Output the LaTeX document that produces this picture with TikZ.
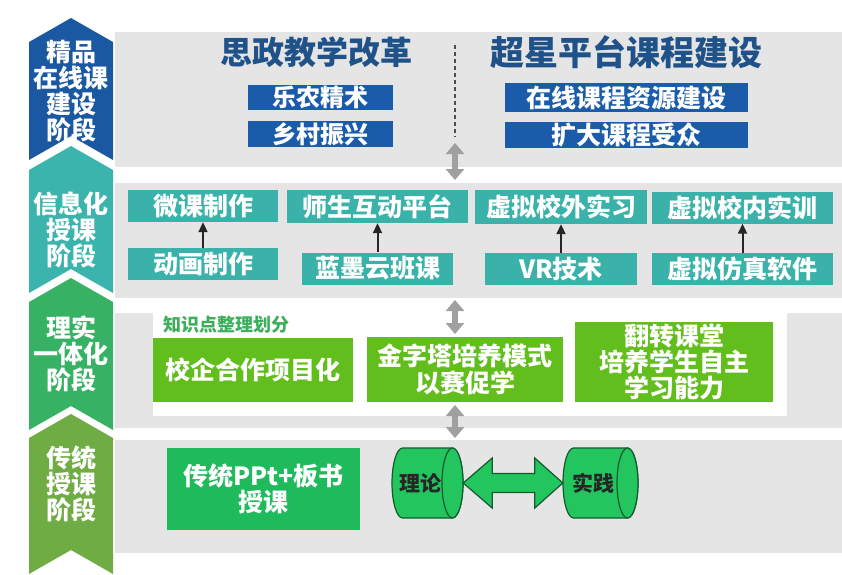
\documentclass[tikz,border=0pt]{standalone}
\usepackage{fontspec}
\setmainfont{Noto Sans CJK SC}
\usetikzlibrary{arrows.meta,calc}
\definecolor{bandgray}{RGB}{229,229,229}
\definecolor{ribblue}{RGB}{26,88,162}
\definecolor{ribteal}{RGB}{58,180,172}
\definecolor{ribgreen}{RGB}{55,178,100}
\definecolor{ribolive}{RGB}{112,172,68}
\definecolor{boxblue}{RGB}{26,92,170}
\definecolor{boxteal}{RGB}{58,178,170}
\definecolor{boxlime}{RGB}{98,190,28}
\definecolor{boxgreen}{RGB}{30,186,92}
\definecolor{cylfill}{RGB}{34,197,94}
\definecolor{cylline}{RGB}{20,90,45}
\definecolor{kpgreen}{RGB}{60,175,90}
\definecolor{arrowgray}{RGB}{160,160,160}
\definecolor{titleblue}{RGB}{32,82,138}
\begin{document}
\begin{tikzpicture}[x=1pt,y=-1pt,
  stagetext/.style={text=white, font=\bfseries\fontsize{25}{26}\selectfont, align=center, inner sep=0pt},
  titletext/.style={text=titleblue, font=\bfseries\fontsize{32}{34}\selectfont, inner sep=0pt},
  bluebox/.style={fill=boxblue, text=white, font=\bfseries\fontsize{24}{26}\selectfont, inner sep=0pt},
  tealbox/.style={fill=boxteal, text=white, font=\bfseries\fontsize{25}{26}\selectfont, inner sep=0pt},
  limebox/.style={fill=boxlime, text=white, font=\bfseries\fontsize{25}{27}\selectfont, align=center, inner sep=0pt},
  greenbox/.style={fill=boxgreen, text=white, font=\bfseries\fontsize{25}{26}\selectfont, align=center, inner sep=0pt},
  cylstyle/.style={fill=cylfill, draw=cylline, line width=1.2pt},
  cyltext/.style={text=black!85, font=\bfseries\fontsize{21}{22}\selectfont, inner sep=0pt},
  grayarrow/.style={draw=arrowgray, line width=6pt, {Triangle[width=18pt,length=11pt]}-{Triangle[width=18pt,length=11pt]}},
  blackarrow/.style={draw=black!85, line width=2pt, -{Triangle[width=9pt,length=10pt]}},
  dividerline/.style={draw=black!70, line width=1.2pt, dash pattern=on 4pt off 3pt}
]
\useasboundingbox (0,0) rectangle (842,574);
\fill[white] (0,0) rectangle (842,574);

% grey bands
\fill[bandgray] (115,32) rectangle (842,167);
\fill[bandgray] (115,183) rectangle (842,298);
\fill[bandgray] (115,313) rectangle (842,428);
\fill[white] (153,313) rectangle (787,416);
\fill[bandgray] (115,440) rectangle (842,553);

% stage ribbons
\fill[ribblue] (29,42) -- (71,18) -- (113,42) -- (113,160) -- (71,136) -- (29,160) -- cycle;
\fill[ribteal] (29,170) -- (71,146) -- (113,170) -- (113,293) -- (71,269) -- (29,293) -- cycle;
\fill[ribgreen] (29,302) -- (71,278) -- (113,302) -- (113,430) -- (71,406) -- (29,430) -- cycle;
\fill[ribolive] (29,438) -- (71,414) -- (113,438) -- (113,574) -- (71,550) -- (29,574) -- cycle;

\node[stagetext] (s1) at (71,91) {精品\\在线课\\建设\\阶段};
\node[stagetext] (s2) at (71,230) {信息化\\授课\\阶段};
\node[stagetext] (s3) at (71,354) {理实\\一体化\\阶段};
\node[stagetext] (s4) at (71,484) {传统\\授课\\阶段};

% band 1
\node[titletext] (szjx) at (316,52) {思政教学改革};
\node[titletext, font=\bfseries\fontsize{34}{36}\selectfont] (cxpt) at (626,52) {超星平台课程建设};
\node[bluebox, minimum width=145pt, minimum height=25pt] (lnjs) at (320.5,97.5) {乐农精术};
\node[bluebox, minimum width=145pt, minimum height=26pt] (xczx) at (320.5,134) {乡村振兴};
\node[bluebox, font=\bfseries\fontsize{25}{26}\selectfont, minimum width=243pt, minimum height=29pt] (zxkc) at (626.5,97.5) {在线课程资源建设};
\node[bluebox, font=\bfseries\fontsize{25}{26}\selectfont, minimum width=243pt, minimum height=26pt] (kdkc) at (626.5,135) {扩大课程受众};
\coordinate (d1) at (455,45);
\coordinate (d2) at (455,137);
\draw[dividerline] (d1) -- (d2);

% band 2
\node[tealbox, minimum width=150pt, minimum height=32pt] (wkzz) at (203,206) {微课制作};
\node[tealbox, minimum width=150pt, minimum height=32pt] (dhzz) at (203,264) {动画制作};
\node[tealbox, minimum width=181pt, minimum height=33pt] (sshd) at (377.5,206.5) {师生互动平台};
\node[tealbox, minimum width=151pt, minimum height=32pt] (lmyb) at (377.5,268.5) {蓝墨云班课};
\node[tealbox, minimum width=172pt, minimum height=34pt] (xnxw) at (561,207) {虚拟校外实习};
\node[tealbox, minimum width=152pt, minimum height=32pt] (vrjs) at (561,269) {VR技术};
\node[tealbox, minimum width=181pt, minimum height=32pt] (xnxn) at (742.5,207.5) {虚拟校内实训};
\node[tealbox, minimum width=181pt, minimum height=32pt] (xnfz) at (742.5,269) {虚拟仿真软件};
\draw[blackarrow] (dhzz.north) -- (wkzz.south);
\draw[blackarrow] (lmyb.north) -- (sshd.south);
\draw[blackarrow] (vrjs.north) -- (xnxw.south);
\draw[blackarrow] (xnfz.north) -- (xnxn.south);

% band 3
\node[text=kpgreen, font=\bfseries\fontsize{18}{20}\selectfont, anchor=west, inner sep=0pt] (zsd) at (163,325) {知识点整理划分};
\node[limebox, minimum width=200pt, minimum height=64pt] (xqhz) at (253,370) {校企合作项目化};
\node[limebox, minimum width=196pt, minimum height=65pt] (jzt) at (465,369.5) {金字塔培养模式\\以赛促学};
\node[limebox, font=\bfseries\fontsize{25}{26}\selectfont, minimum width=198pt, minimum height=80pt] (fzkt) at (674,362) {翻转课堂\\培养学生自主\\学习能力};

% band 4
\node[greenbox, minimum width=193pt, minimum height=82pt] (ppt) at (263.5,489) {传统PPt+板书\\授课};
\node[inner sep=0pt, minimum width=71pt, minimum height=70pt] (lilun) at (427.5,483) {};
\node[inner sep=0pt, minimum width=75pt, minimum height=70pt] (shijian) at (600.5,483) {};
\draw[cylstyle] ($(lilun.center)+(25pt,35pt)$) -- ($(lilun.center)+(-25pt,35pt)$)
  arc[start angle=90, end angle=270, x radius=10.5pt, y radius=35pt]
  -- ($(lilun.center)+(25pt,-35pt)$)
  arc[start angle=-90, end angle=90, x radius=10.5pt, y radius=35pt] -- cycle;
\draw[cylstyle] ($(lilun.center)+(25pt,0pt)$) ellipse[x radius=10.5pt, y radius=35pt];
\draw[cylstyle] ($(shijian.center)+(27pt,35pt)$) -- ($(shijian.center)+(-27pt,35pt)$)
  arc[start angle=90, end angle=270, x radius=10.5pt, y radius=35pt]
  -- ($(shijian.center)+(27pt,-35pt)$)
  arc[start angle=-90, end angle=90, x radius=10.5pt, y radius=35pt] -- cycle;
\draw[cylstyle] ($(shijian.center)+(27pt,0pt)$) ellipse[x radius=10.5pt, y radius=35pt];
\node[cyltext] (lltxt) at (420,483) {理论};
\node[cyltext] (sjtxt) at (593,483) {实践};
\draw[cylstyle] (lilun.east) -- ($(lilun.east)+(29pt,25pt)$) -- ($(lilun.east)+(29pt,9.5pt)$)
  -- ($(shijian.west)+(-28pt,9.5pt)$) -- ($(shijian.west)+(-28pt,25pt)$) -- (shijian.west)
  -- ($(shijian.west)+(-28pt,-25pt)$) -- ($(shijian.west)+(-28pt,-9.5pt)$)
  -- ($(lilun.east)+(29pt,-9.5pt)$) -- ($(lilun.east)+(29pt,-25pt)$) -- cycle;

% grey connectors between stages
\coordinate (g1a) at (455,143);
\coordinate (g1b) at (455,180);
\coordinate (g2a) at (455,300);
\coordinate (g2b) at (455,334);
\coordinate (g3a) at (455,405);
\coordinate (g3b) at (455,438);
\draw[grayarrow] (g1a) -- (g1b);
\draw[grayarrow] (g2a) -- (g2b);
\draw[grayarrow] (g3a) -- (g3b);
\end{tikzpicture}
\end{document}
